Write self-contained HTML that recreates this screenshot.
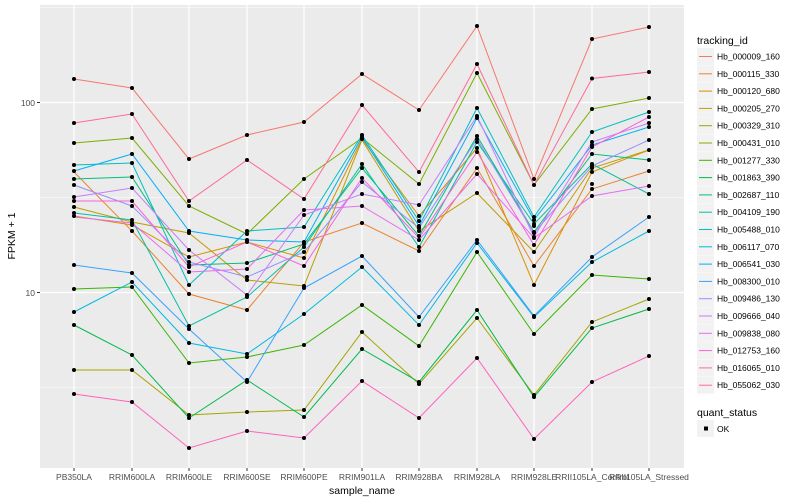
<!DOCTYPE html>
<html><head><meta charset="utf-8"><style>
body{margin:0;background:#fff;}
svg{display:block;font-family:"Liberation Sans",sans-serif;}
</style></head><body>
<svg width="800" height="500" viewBox="0 0 800 500" xmlns="http://www.w3.org/2000/svg">
<rect x="40" y="5" width="644" height="463" fill="#EBEBEB"/>
<g stroke="#fff" stroke-width="0.6">
<line x1="40" x2="684" y1="197.5" y2="197.5"/><line x1="40" x2="684" y1="387.5" y2="387.5"/><line x1="40" x2="684" y1="7.5" y2="7.5"/>
</g>
<g stroke="#fff" stroke-width="1.2">
<line x1="40" x2="684" y1="102.5" y2="102.5"/><line x1="40" x2="684" y1="292.5" y2="292.5"/>
<line x1="74" x2="74" y1="5" y2="468"/><line x1="132" x2="132" y1="5" y2="468"/><line x1="189" x2="189" y1="5" y2="468"/><line x1="247" x2="247" y1="5" y2="468"/><line x1="304" x2="304" y1="5" y2="468"/><line x1="362" x2="362" y1="5" y2="468"/><line x1="419" x2="419" y1="5" y2="468"/><line x1="477" x2="477" y1="5" y2="468"/><line x1="534" x2="534" y1="5" y2="468"/><line x1="592" x2="592" y1="5" y2="468"/><line x1="649" x2="649" y1="5" y2="468"/>
</g>
<g fill="none" stroke-width="1">
<polyline stroke="#EA8331" points="74,172 132,231 189,294 247,310 304,242 362,223 419,251 477,168 534,266 592,189 649,171"/>
<polyline stroke="#D89000" points="74,216 132,225 189,257 247,242 304,258 362,139 419,216 477,148 534,285 592,172 649,150"/>
<polyline stroke="#C09B00" points="74,207 132,222 189,233 247,280 304,286 362,140 419,231 477,193 534,252 592,168 649,150"/>
<polyline stroke="#A3A500" points="74,370 132,370 189,415 247,412 304,410 362,332 419,384 477,318 534,395 592,322 649,299"/>
<polyline stroke="#7CAE00" points="74,143 132,138 189,206 247,234 304,179 362,138 419,184 477,73 534,185 592,109 649,98"/>
<polyline stroke="#39B600" points="74,289 132,287 189,363 247,357 304,345 362,305 419,346 477,252 534,334 592,275 649,279"/>
<polyline stroke="#00BB4E" points="74,325 132,355 189,418 247,380 304,417 362,349 419,382 477,310 534,397 592,328 649,309"/>
<polyline stroke="#00BF7D" points="74,179 132,177 189,265 247,263 304,244 362,168 419,236 477,136 534,232 592,154 649,160"/>
<polyline stroke="#00C1A3" points="74,213 132,220 189,326 247,297 304,247 362,164 419,247 477,142 534,224 592,164 649,194"/>
<polyline stroke="#00BFC4" points="74,165 132,163 189,285 247,231 304,227 362,135 419,221 477,108 534,217 592,132 649,112"/>
<polyline stroke="#00BAE0" points="74,312 132,282 189,343 247,354 304,314 362,267 419,325 477,243 534,317 592,262 649,231"/>
<polyline stroke="#00B0F6" points="74,171 132,154 189,231 247,240 304,242 362,137 419,226 477,118 534,220 592,145 649,127"/>
<polyline stroke="#35A2FF" points="74,265 132,273 189,329 247,382 304,288 362,256 419,317 477,240 534,316 592,257 649,217"/>
<polyline stroke="#9590FF" points="74,185 132,206 189,262 247,277 304,252 362,182 419,228 477,139 534,233 592,166 649,140"/>
<polyline stroke="#C77CFF" points="74,197 132,188 189,250 247,295 304,215 362,194 419,205 477,116 534,237 592,142 649,123"/>
<polyline stroke="#E76BF3" points="74,217 132,223 189,272 247,269 304,210 362,206 419,240 477,174 534,238 592,196 649,186"/>
<polyline stroke="#FA62DB" points="74,201 132,201 189,267 247,242 304,266 362,178 419,238 477,152 534,245 592,147 649,117"/>
<polyline stroke="#FF62BC" points="74,394 132,402 189,448 247,431 304,438 362,381 419,418 477,358 534,439 592,382 649,356"/>
<polyline stroke="#FF6A98" points="74,123 132,114 189,201 247,160 304,199 362,105 419,172 477,64 534,185 592,78.5 649,72"/>
<polyline stroke="#F8766D" points="74,79 132,88 189,159 247,135 304,122 362,74 419,110 477,26 534,179 592,39 649,27"/>
</g>
<g fill="#000">
<!-- points per column -->
<g id="pts">
<circle cx="74" cy="79" r="2"/><circle cx="74" cy="123" r="2"/><circle cx="74" cy="143" r="2"/><circle cx="74" cy="165" r="2"/><circle cx="74" cy="171" r="2"/><circle cx="74" cy="179" r="2"/><circle cx="74" cy="185" r="2"/><circle cx="74" cy="197" r="2"/><circle cx="74" cy="201" r="2"/><circle cx="74" cy="207" r="2"/><circle cx="74" cy="213" r="2"/><circle cx="74" cy="216" r="2"/><circle cx="74" cy="265" r="2"/><circle cx="74" cy="289" r="2"/><circle cx="74" cy="312" r="2"/><circle cx="74" cy="325" r="2"/><circle cx="74" cy="370" r="2"/><circle cx="74" cy="394" r="2"/>
<circle cx="132" cy="88" r="2"/><circle cx="132" cy="114" r="2"/><circle cx="132" cy="138" r="2"/><circle cx="132" cy="154" r="2"/><circle cx="132" cy="163" r="2"/><circle cx="132" cy="177" r="2"/><circle cx="132" cy="188" r="2"/><circle cx="132" cy="201" r="2"/><circle cx="132" cy="206" r="2"/><circle cx="132" cy="220" r="2"/><circle cx="132" cy="223" r="2"/><circle cx="132" cy="225" r="2"/><circle cx="132" cy="231" r="2"/><circle cx="132" cy="273" r="2"/><circle cx="132" cy="282" r="2"/><circle cx="132" cy="287" r="2"/><circle cx="132" cy="355" r="2"/><circle cx="132" cy="370" r="2"/><circle cx="132" cy="402" r="2"/>
<circle cx="189" cy="159" r="2"/><circle cx="189" cy="201" r="2"/><circle cx="189" cy="206" r="2"/><circle cx="189" cy="231" r="2"/><circle cx="189" cy="233" r="2"/><circle cx="189" cy="250" r="2"/><circle cx="189" cy="257" r="2"/><circle cx="189" cy="262" r="2"/><circle cx="189" cy="265" r="2"/><circle cx="189" cy="267" r="2"/><circle cx="189" cy="272" r="2"/><circle cx="189" cy="285" r="2"/><circle cx="189" cy="294" r="2"/><circle cx="189" cy="326" r="2"/><circle cx="189" cy="329" r="2"/><circle cx="189" cy="343" r="2"/><circle cx="189" cy="363" r="2"/><circle cx="189" cy="415" r="2"/><circle cx="189" cy="418" r="2"/><circle cx="189" cy="448" r="2"/>
<circle cx="247" cy="135" r="2"/><circle cx="247" cy="160" r="2"/><circle cx="247" cy="231" r="2"/><circle cx="247" cy="234" r="2"/><circle cx="247" cy="240" r="2"/><circle cx="247" cy="242" r="2"/><circle cx="247" cy="263" r="2"/><circle cx="247" cy="269" r="2"/><circle cx="247" cy="277" r="2"/><circle cx="247" cy="280" r="2"/><circle cx="247" cy="295" r="2"/><circle cx="247" cy="297" r="2"/><circle cx="247" cy="310" r="2"/><circle cx="247" cy="354" r="2"/><circle cx="247" cy="357" r="2"/><circle cx="247" cy="380" r="2"/><circle cx="247" cy="382" r="2"/><circle cx="247" cy="412" r="2"/><circle cx="247" cy="431" r="2"/>
<circle cx="304" cy="122" r="2"/><circle cx="304" cy="179" r="2"/><circle cx="304" cy="199" r="2"/><circle cx="304" cy="210" r="2"/><circle cx="304" cy="215" r="2"/><circle cx="304" cy="227" r="2"/><circle cx="304" cy="242" r="2"/><circle cx="304" cy="244" r="2"/><circle cx="304" cy="247" r="2"/><circle cx="304" cy="252" r="2"/><circle cx="304" cy="258" r="2"/><circle cx="304" cy="266" r="2"/><circle cx="304" cy="286" r="2"/><circle cx="304" cy="288" r="2"/><circle cx="304" cy="314" r="2"/><circle cx="304" cy="345" r="2"/><circle cx="304" cy="410" r="2"/><circle cx="304" cy="417" r="2"/><circle cx="304" cy="438" r="2"/>
<circle cx="362" cy="74" r="2"/><circle cx="362" cy="105" r="2"/><circle cx="362" cy="135" r="2"/><circle cx="362" cy="137" r="2"/><circle cx="362" cy="139" r="2"/><circle cx="362" cy="164" r="2"/><circle cx="362" cy="168" r="2"/><circle cx="362" cy="178" r="2"/><circle cx="362" cy="182" r="2"/><circle cx="362" cy="194" r="2"/><circle cx="362" cy="206" r="2"/><circle cx="362" cy="223" r="2"/><circle cx="362" cy="256" r="2"/><circle cx="362" cy="267" r="2"/><circle cx="362" cy="305" r="2"/><circle cx="362" cy="332" r="2"/><circle cx="362" cy="349" r="2"/><circle cx="362" cy="381" r="2"/>
<circle cx="419" cy="110" r="2"/><circle cx="419" cy="172" r="2"/><circle cx="419" cy="184" r="2"/><circle cx="419" cy="205" r="2"/><circle cx="419" cy="216" r="2"/><circle cx="419" cy="221" r="2"/><circle cx="419" cy="226" r="2"/><circle cx="419" cy="228" r="2"/><circle cx="419" cy="231" r="2"/><circle cx="419" cy="236" r="2"/><circle cx="419" cy="240" r="2"/><circle cx="419" cy="247" r="2"/><circle cx="419" cy="251" r="2"/><circle cx="419" cy="317" r="2"/><circle cx="419" cy="325" r="2"/><circle cx="419" cy="346" r="2"/><circle cx="419" cy="382" r="2"/><circle cx="419" cy="384" r="2"/><circle cx="419" cy="418" r="2"/>
<circle cx="477" cy="26" r="2"/><circle cx="477" cy="64" r="2"/><circle cx="477" cy="73" r="2"/><circle cx="477" cy="108" r="2"/><circle cx="477" cy="116" r="2"/><circle cx="477" cy="118" r="2"/><circle cx="477" cy="136" r="2"/><circle cx="477" cy="139" r="2"/><circle cx="477" cy="142" r="2"/><circle cx="477" cy="148" r="2"/><circle cx="477" cy="152" r="2"/><circle cx="477" cy="168" r="2"/><circle cx="477" cy="174" r="2"/><circle cx="477" cy="193" r="2"/><circle cx="477" cy="240" r="2"/><circle cx="477" cy="243" r="2"/><circle cx="477" cy="252" r="2"/><circle cx="477" cy="310" r="2"/><circle cx="477" cy="318" r="2"/><circle cx="477" cy="358" r="2"/>
<circle cx="534" cy="179" r="2"/><circle cx="534" cy="185" r="2"/><circle cx="534" cy="217" r="2"/><circle cx="534" cy="220" r="2"/><circle cx="534" cy="224" r="2"/><circle cx="534" cy="226" r="2"/><circle cx="534" cy="232" r="2"/><circle cx="534" cy="233" r="2"/><circle cx="534" cy="237" r="2"/><circle cx="534" cy="238" r="2"/><circle cx="534" cy="245" r="2"/><circle cx="534" cy="252" r="2"/><circle cx="534" cy="266" r="2"/><circle cx="534" cy="285" r="2"/><circle cx="534" cy="316" r="2"/><circle cx="534" cy="317" r="2"/><circle cx="534" cy="334" r="2"/><circle cx="534" cy="395" r="2"/><circle cx="534" cy="397" r="2"/><circle cx="534" cy="439" r="2"/>
<circle cx="592" cy="39" r="2"/><circle cx="592" cy="78.5" r="2"/><circle cx="592" cy="109" r="2"/><circle cx="592" cy="132" r="2"/><circle cx="592" cy="142" r="2"/><circle cx="592" cy="145" r="2"/><circle cx="592" cy="147" r="2"/><circle cx="592" cy="154" r="2"/><circle cx="592" cy="164" r="2"/><circle cx="592" cy="166" r="2"/><circle cx="592" cy="168" r="2"/><circle cx="592" cy="172" r="2"/><circle cx="592" cy="184" r="2"/><circle cx="592" cy="189" r="2"/><circle cx="592" cy="196" r="2"/><circle cx="592" cy="257" r="2"/><circle cx="592" cy="262" r="2"/><circle cx="592" cy="275" r="2"/><circle cx="592" cy="322" r="2"/><circle cx="592" cy="328" r="2"/><circle cx="592" cy="382" r="2"/>
<circle cx="649" cy="27" r="2"/><circle cx="649" cy="72" r="2"/><circle cx="649" cy="98" r="2"/><circle cx="649" cy="112" r="2"/><circle cx="649" cy="117" r="2"/><circle cx="649" cy="123" r="2"/><circle cx="649" cy="127" r="2"/><circle cx="649" cy="140" r="2"/><circle cx="649" cy="150" r="2"/><circle cx="649" cy="160" r="2"/><circle cx="649" cy="171" r="2"/><circle cx="649" cy="186" r="2"/><circle cx="649" cy="194" r="2"/><circle cx="649" cy="217" r="2"/><circle cx="649" cy="231" r="2"/><circle cx="649" cy="279" r="2"/><circle cx="649" cy="299" r="2"/><circle cx="649" cy="309" r="2"/><circle cx="649" cy="356" r="2"/>
</g>
</g>
<!-- axes -->
<g stroke="#333" stroke-width="1">
<line x1="37" x2="40" y1="102.5" y2="102.5"/><line x1="37" x2="40" y1="292.5" y2="292.5"/>
<line x1="74" x2="74" y1="468" y2="471"/><line x1="132" x2="132" y1="468" y2="471"/><line x1="189" x2="189" y1="468" y2="471"/><line x1="247" x2="247" y1="468" y2="471"/><line x1="304" x2="304" y1="468" y2="471"/><line x1="362" x2="362" y1="468" y2="471"/><line x1="419" x2="419" y1="468" y2="471"/><line x1="477" x2="477" y1="468" y2="471"/><line x1="534" x2="534" y1="468" y2="471"/><line x1="592" x2="592" y1="468" y2="471"/><line x1="649" x2="649" y1="468" y2="471"/>
</g>
<g fill="#4D4D4D" font-size="8.5">
<text x="35" y="106" text-anchor="end">100</text><text x="35" y="296" text-anchor="end">10</text>
<g text-anchor="middle">
<text x="74" y="480">PB350LA</text><text x="132" y="480">RRIM600LA</text><text x="189" y="480">RRIM600LE</text><text x="247" y="480">RRIM600SE</text><text x="304" y="480">RRIM600PE</text><text x="362" y="480">RRIM901LA</text><text x="419" y="480">RRIM928BA</text><text x="477" y="480">RRIM928LA</text><text x="534" y="480">RRIM928LE</text><text x="592" y="480">RRII105LA_Control</text><text x="649" y="480">RRII105LA_Stressed</text>
</g>
</g>
<text x="362" y="494" font-size="10.5" text-anchor="middle" fill="#000">sample_name</text>
<text transform="translate(15,236) rotate(-90)" font-size="10.5" text-anchor="middle" fill="#000">FPKM + 1</text>
<!-- legend -->
<text x="697" y="44" font-size="10.5" fill="#000">tracking_id</text>
<g font-size="8.5" fill="#000">
<g transform="translate(0,0)"><rect x="697" y="48" width="17" height="17" fill="#F2F2F2"/><line x1="699" x2="712" y1="56.5" y2="56.5" stroke="#F8766D"/><text x="717" y="59.5">Hb_000009_160</text></g>
<g transform="translate(0,17.3)"><rect x="697" y="48" width="17" height="17" fill="#F2F2F2"/><line x1="699" x2="712" y1="56.5" y2="56.5" stroke="#EA8331"/><text x="717" y="59.5">Hb_000115_330</text></g>
<g transform="translate(0,34.6)"><rect x="697" y="48" width="17" height="17" fill="#F2F2F2"/><line x1="699" x2="712" y1="56.5" y2="56.5" stroke="#D89000"/><text x="717" y="59.5">Hb_000120_680</text></g>
<g transform="translate(0,51.9)"><rect x="697" y="48" width="17" height="17" fill="#F2F2F2"/><line x1="699" x2="712" y1="56.5" y2="56.5" stroke="#C09B00"/><text x="717" y="59.5">Hb_000205_270</text></g>
<g transform="translate(0,69.2)"><rect x="697" y="48" width="17" height="17" fill="#F2F2F2"/><line x1="699" x2="712" y1="56.5" y2="56.5" stroke="#A3A500"/><text x="717" y="59.5">Hb_000329_310</text></g>
<g transform="translate(0,86.5)"><rect x="697" y="48" width="17" height="17" fill="#F2F2F2"/><line x1="699" x2="712" y1="56.5" y2="56.5" stroke="#7CAE00"/><text x="717" y="59.5">Hb_000431_010</text></g>
<g transform="translate(0,103.8)"><rect x="697" y="48" width="17" height="17" fill="#F2F2F2"/><line x1="699" x2="712" y1="56.5" y2="56.5" stroke="#39B600"/><text x="717" y="59.5">Hb_001277_330</text></g>
<g transform="translate(0,121.1)"><rect x="697" y="48" width="17" height="17" fill="#F2F2F2"/><line x1="699" x2="712" y1="56.5" y2="56.5" stroke="#00BB4E"/><text x="717" y="59.5">Hb_001863_390</text></g>
<g transform="translate(0,138.4)"><rect x="697" y="48" width="17" height="17" fill="#F2F2F2"/><line x1="699" x2="712" y1="56.5" y2="56.5" stroke="#00BF7D"/><text x="717" y="59.5">Hb_002687_110</text></g>
<g transform="translate(0,155.7)"><rect x="697" y="48" width="17" height="17" fill="#F2F2F2"/><line x1="699" x2="712" y1="56.5" y2="56.5" stroke="#00C1A3"/><text x="717" y="59.5">Hb_004109_190</text></g>
<g transform="translate(0,173)"><rect x="697" y="48" width="17" height="17" fill="#F2F2F2"/><line x1="699" x2="712" y1="56.5" y2="56.5" stroke="#00BFC4"/><text x="717" y="59.5">Hb_005488_010</text></g>
<g transform="translate(0,190.3)"><rect x="697" y="48" width="17" height="17" fill="#F2F2F2"/><line x1="699" x2="712" y1="56.5" y2="56.5" stroke="#00BAE0"/><text x="717" y="59.5">Hb_006117_070</text></g>
<g transform="translate(0,207.6)"><rect x="697" y="48" width="17" height="17" fill="#F2F2F2"/><line x1="699" x2="712" y1="56.5" y2="56.5" stroke="#00B0F6"/><text x="717" y="59.5">Hb_006541_030</text></g>
<g transform="translate(0,224.9)"><rect x="697" y="48" width="17" height="17" fill="#F2F2F2"/><line x1="699" x2="712" y1="56.5" y2="56.5" stroke="#35A2FF"/><text x="717" y="59.5">Hb_008300_010</text></g>
<g transform="translate(0,242.2)"><rect x="697" y="48" width="17" height="17" fill="#F2F2F2"/><line x1="699" x2="712" y1="56.5" y2="56.5" stroke="#9590FF"/><text x="717" y="59.5">Hb_009486_130</text></g>
<g transform="translate(0,259.5)"><rect x="697" y="48" width="17" height="17" fill="#F2F2F2"/><line x1="699" x2="712" y1="56.5" y2="56.5" stroke="#C77CFF"/><text x="717" y="59.5">Hb_009666_040</text></g>
<g transform="translate(0,276.8)"><rect x="697" y="48" width="17" height="17" fill="#F2F2F2"/><line x1="699" x2="712" y1="56.5" y2="56.5" stroke="#E76BF3"/><text x="717" y="59.5">Hb_009838_080</text></g>
<g transform="translate(0,294.1)"><rect x="697" y="48" width="17" height="17" fill="#F2F2F2"/><line x1="699" x2="712" y1="56.5" y2="56.5" stroke="#FA62DB"/><text x="717" y="59.5">Hb_012753_160</text></g>
<g transform="translate(0,311.4)"><rect x="697" y="48" width="17" height="17" fill="#F2F2F2"/><line x1="699" x2="712" y1="56.5" y2="56.5" stroke="#FF62BC"/><text x="717" y="59.5">Hb_016065_010</text></g>
<g transform="translate(0,328.7)"><rect x="697" y="48" width="17" height="17" fill="#F2F2F2"/><line x1="699" x2="712" y1="56.5" y2="56.5" stroke="#FF6A98"/><text x="717" y="59.5">Hb_055062_030</text></g>
</g>
<text x="697" y="416" font-size="10.5" fill="#000">quant_status</text>
<rect x="697" y="420" width="17" height="17" fill="#F2F2F2"/>
<rect x="704" y="426.5" width="4" height="4" fill="#000"/>
<text x="717" y="432" font-size="8.5" fill="#000">OK</text>
</svg>
</body></html>
